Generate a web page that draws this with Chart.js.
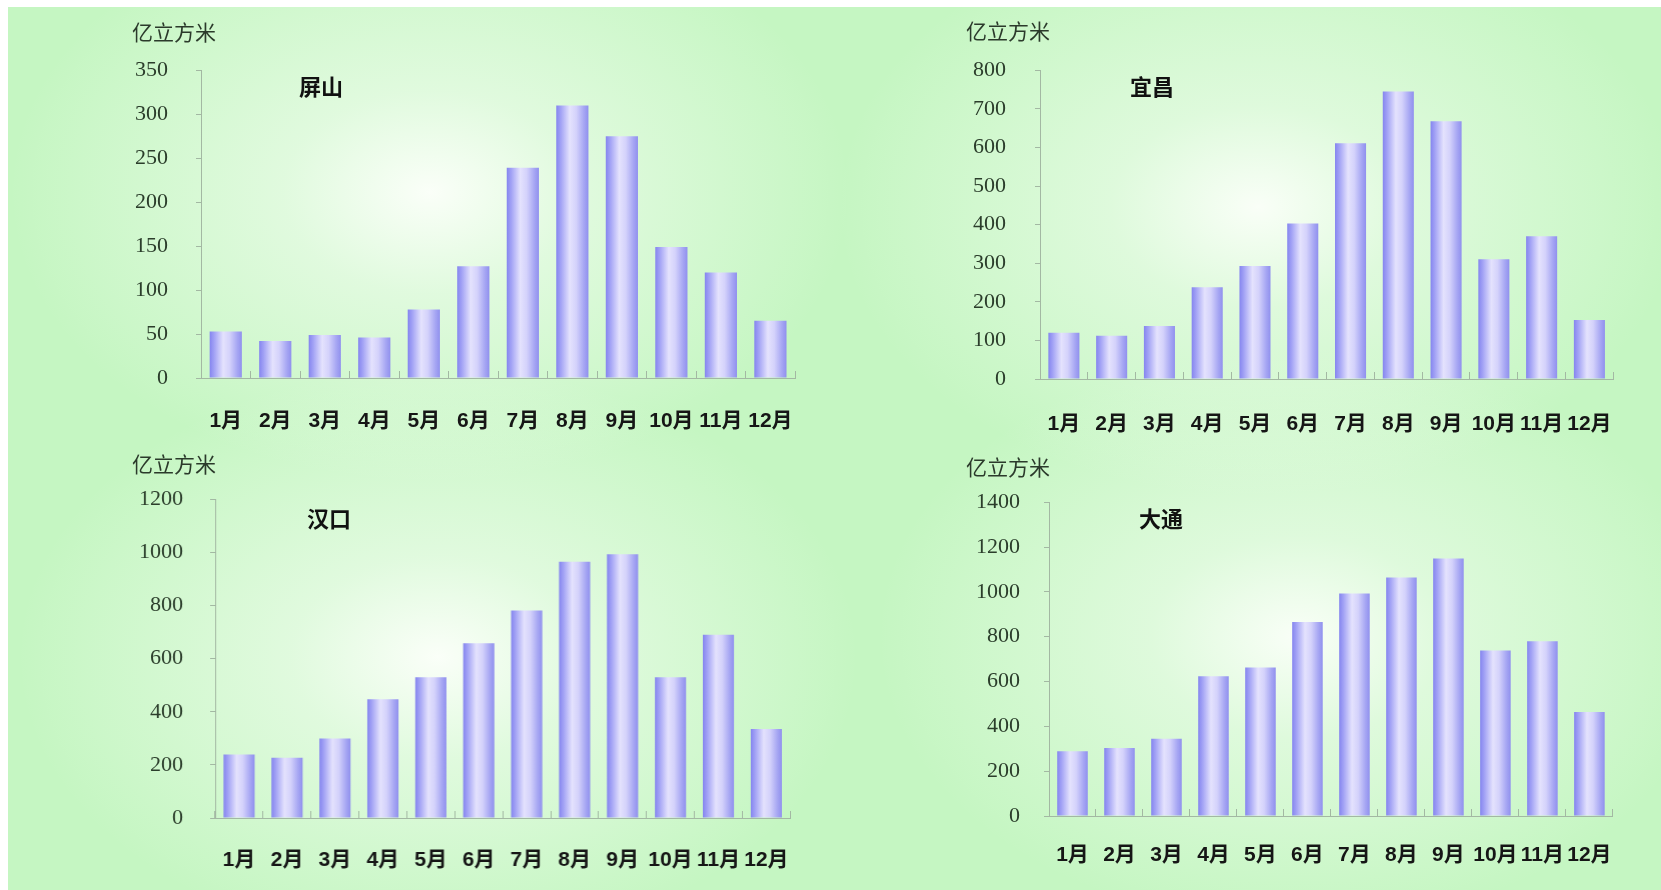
<!DOCTYPE html>
<html>
<head>
<meta charset="utf-8">
<script src="https://cdn.jsdelivr.net/npm/chart.js@4.4.1/dist/chart.umd.min.js"></script>
<style>
  html, body { margin: 0; padding: 0; background: #ffffff; }
  body { width: 1661px; height: 890px; position: relative; overflow: hidden; }
  #bg {
    position: absolute; left: 8px; top: 7px; right: 0; bottom: 0;
    background:
      radial-gradient(ellipse 420px 290px at 422px 185px, rgba(252,255,250,0.97) 0%, rgba(236,252,234,0.7) 35%, rgba(198,246,195,0) 100%),
      radial-gradient(ellipse 420px 290px at 1250px 200px, rgba(252,255,250,0.95) 0%, rgba(236,252,234,0.65) 35%, rgba(198,246,195,0) 100%),
      radial-gradient(ellipse 420px 290px at 430px 650px, rgba(252,255,250,0.97) 0%, rgba(236,252,234,0.7) 35%, rgba(198,246,195,0) 100%),
      radial-gradient(ellipse 420px 290px at 1290px 630px, rgba(252,255,250,0.95) 0%, rgba(236,252,234,0.65) 35%, rgba(198,246,195,0) 100%),
      #c5f6c2;
  }
  canvas { position: absolute; }
  .unit {
    position: absolute; font-family: "Noto Sans CJK SC", sans-serif; font-size: 21px;
    color: #2b3a2b; line-height: 1; white-space: nowrap;
    transform: translateY(-50%);
  }
  .name {
    position: absolute; font-family: "Noto Sans CJK SC", sans-serif; font-weight: bold;
    font-size: 22px; color: #111111; line-height: 1; white-space: nowrap;
    transform: translate(-50%, -50%);
  }
</style>
</head>
<body>
<div id="bg"></div>

<script>
// Monthly runoff at four Yangtze stations (亿立方米)
const months = ['1月', '2月', '3月', '4月', '5月', '6月', '7月', '8月', '9月', '10月', '11月', '12月'];

const pingshan = [53, 42, 49, 46, 78, 127, 239, 310, 275, 149, 120, 65];
const yichang  = [120, 112, 137, 238, 293, 403, 611, 745, 668, 310, 370, 153];
const hankou   = [239, 227, 299, 447, 530, 658, 781, 965, 993, 530, 690, 335];
const datong   = [289, 303, 345, 624, 662, 866, 993, 1064, 1149, 738, 780, 464];

const stationNames = ['屏山', '宜昌', '汉口', '大通'];
const unitLabel = '亿立方米';
const yMaxima = [350, 800, 1200, 1400];
const yStepSizes = [50, 100, 200, 200];

// Plot-area boxes (page pixels) and label offsets for the 2x2 grid
const panels = [
  { data: pingshan, area: { left: 201, top: 70, right: 794, bottom: 378 }, yGap: 28, xGap: 38,
    unit: { x: 132, y: 31 }, name: { x: 321, y: 85 } },
  { data: yichang,  area: { left: 1040, top: 70, right: 1612, bottom: 379 }, yGap: 29, xGap: 40,
    unit: { x: 966, y: 30 }, name: { x: 1152, y: 85 } },
  { data: hankou,   area: { left: 215, top: 499, right: 789, bottom: 818 }, yGap: 27, xGap: 37,
    unit: { x: 132, y: 463 }, name: { x: 329, y: 517 } },
  { data: datong,   area: { left: 1049, top: 502, right: 1612, bottom: 816 }, yGap: 24, xGap: 34,
    unit: { x: 966, y: 466 }, name: { x: 1161, y: 517 } }
];

const AXIS_W = 90, AXIS_H = 70, PAD_TOP = 16, PAD_RIGHT = 10;
const BAR_FRACTION = 0.65;
const axisColor = '#a3b8a3';

// Horizontal "cylinder" shading across each bar
function barFill(ctx) {
  if (ctx.type !== 'data') return '#a6a6f4';
  const chart = ctx.chart;
  const xs = chart.scales.x;
  if (!xs || !chart.chartArea) return '#a6a6f4';
  const c = xs.getPixelForValue(ctx.dataIndex);
  const half = (xs.width / months.length) * BAR_FRACTION / 2;
  const g = chart.ctx.createLinearGradient(c - half, 0, c + half, 0);
  g.addColorStop(0.00, '#8585ef');
  g.addColorStop(0.14, '#a2a2f5');
  g.addColorStop(0.42, '#e4e2fd');
  g.addColorStop(0.62, '#d4d2fb');
  g.addColorStop(0.86, '#a6a6f3');
  g.addColorStop(1.00, '#9090ee');
  return g;
}

function makeConfig(p, i) {
  return {
    type: 'bar',
    data: {
      labels: months,
      datasets: [{
        data: p.data,
        backgroundColor: barFill,
        borderWidth: 0,
        categoryPercentage: 1.0,
        barPercentage: BAR_FRACTION
      }]
    },
    options: {
      responsive: false,
      maintainAspectRatio: false,
      animation: false,
      devicePixelRatio: 1,
      layout: { padding: { top: PAD_TOP, right: PAD_RIGHT, left: 0, bottom: 0 } },
      plugins: { legend: { display: false }, tooltip: { enabled: false }, title: { display: false } },
      scales: {
        x: {
          type: 'category',
          offset: true,
          grid: { display: true, offset: true, drawOnChartArea: false, drawTicks: true, tickLength: -7, color: axisColor, lineWidth: 1 },
          border: { display: true, color: axisColor, width: 1 },
          ticks: {
            color: '#161616', padding: p.xGap, maxRotation: 0, autoSkip: false,
            font: { family: '"Liberation Sans", "Noto Sans CJK SC", sans-serif', size: 21, weight: 'bold' }
          },
          afterFit: s => { s.height = AXIS_H; }
        },
        y: {
          min: 0, max: yMaxima[i],
          grid: { display: true, drawOnChartArea: false, drawTicks: true, tickLength: 5, color: axisColor, lineWidth: 1 },
          border: { display: true, color: axisColor, width: 1 },
          ticks: {
            stepSize: yStepSizes[i], color: '#2b3d2b', padding: p.yGap,
            callback: v => String(v),
            font: { family: '"Liberation Serif", "DejaVu Serif", serif', size: 22 }
          },
          afterFit: s => { s.width = AXIS_W; }
        }
      }
    }
  };
}

function placeCanvas(canvas, left, top, w, h) {
  canvas.width = w; canvas.height = h;
  canvas.style.left = left + 'px';
  canvas.style.top = top + 'px';
  canvas.style.width = w + 'px';
  canvas.style.height = h + 'px';
}

panels.forEach((p, i) => {
  const a = p.area;
  const aw = a.right - a.left, ah = a.bottom - a.top;

  // First pass: measure how much room the axes and layout take around the plot area
  const probe = document.createElement('canvas');
  let w = aw + AXIS_W + PAD_RIGHT, h = ah + PAD_TOP + AXIS_H;
  placeCanvas(probe, 0, 0, w, h);
  document.body.appendChild(probe);
  const tmp = new Chart(probe, makeConfig(p, i));
  const ca = tmp.chartArea;
  const extraW = w - (ca.right - ca.left);
  const extraH = h - (ca.bottom - ca.top);
  const offL = ca.left, offT = ca.top;
  tmp.destroy();
  probe.remove();

  // Second pass: size the canvas so the plot area lands on the target box
  const canvas = document.createElement('canvas');
  placeCanvas(canvas, a.left - offL, a.top - offT, aw + extraW, ah + extraH);
  document.body.appendChild(canvas);
  new Chart(canvas, makeConfig(p, i));

  const unit = document.createElement('div');
  unit.className = 'unit';
  unit.textContent = unitLabel;
  unit.style.left = p.unit.x + 'px';
  unit.style.top = p.unit.y + 'px';
  document.body.appendChild(unit);

  const name = document.createElement('div');
  name.className = 'name';
  name.textContent = stationNames[i];
  name.style.left = p.name.x + 'px';
  name.style.top = p.name.y + 'px';
  document.body.appendChild(name);
});
</script>
</body>
</html>
